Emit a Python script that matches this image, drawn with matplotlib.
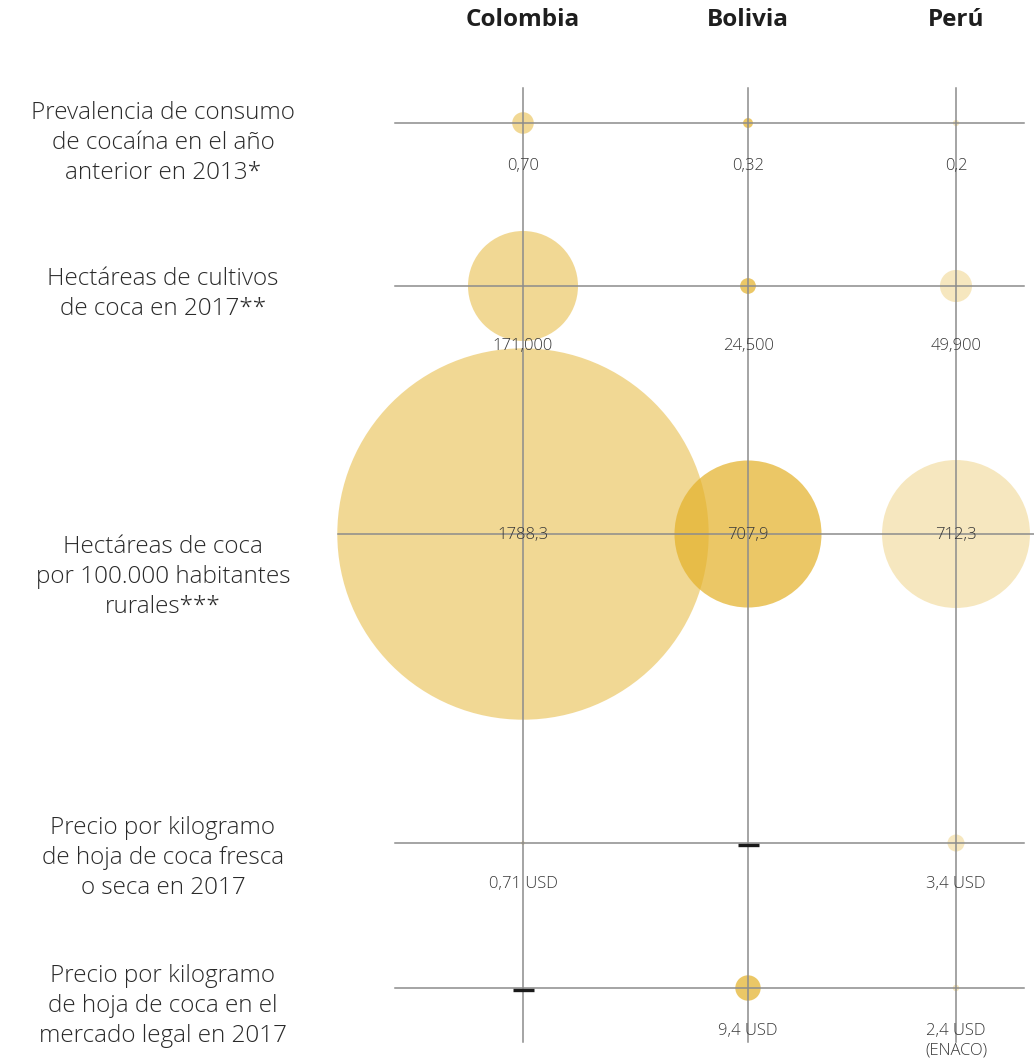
import numpy as np
import matplotlib
matplotlib.use("Agg")
import matplotlib.pyplot as plt
from matplotlib.patches import Circle

# datos
paises = ["Colombia", "Bolivia", "Perú"]
indicadores = [
    "Prevalencia de consumo\nde cocaína en el año\nanterior en 2013*",
    "Hectáreas de cultivos\nde coca en 2017**",
    "Hectáreas de coca\npor 100.000 habitantes\nrurales***",
    "Precio por kilogramo\nde hoja de coca fresca\no seca en 2017",
    "Precio por kilogramo\nde hoja de coca en el\nmercado legal en 2017",
]
prevalencia = [0.70, 0.32, 0.2]
hectareas = [171000, 24500, 49900]
hect_rurales = [1788.3, 707.9, 712.3]
precio_hoja = [0.71, np.nan, 3.4]
precio_legal = [np.nan, 9.4, 2.4]

etiquetas = [
    ["0,70", "0,32", "0,2"],
    ["171,000", "24,500", "49,900"],
    ["1788,3", "707,9", "712,3"],
    ["0,71 USD", "", "3,4 USD"],
    ["", "9,4 USD", "2,4 USD\n(ENACO)"],
]
valores = [prevalencia, hectareas, hect_rurales, precio_hoja, precio_legal]

# layout (pixeles)
W, H = 1034, 1061
col_x = [523, 748, 956]
fila_y = [123, 286, 534, 843, 988]
radio_max = [10.8, 55, 185.7, 8.5, 12.7]
etiq_dy = [42, 59, 0, 40, 42]
texto_y = [143, 294, 577, 858, 1006]
alfa_pais = [0.5, 0.72, 0.3]
oro = "#E4B22B"
gris = "#8c8c8c"
fuente = ["Open Sans", "DejaVu Sans"]

fig = plt.figure(figsize=(W / 100, H / 100), dpi=100)
ax = fig.add_axes([0, 0, 1, 1])
ax.set_xlim(0, W)
ax.set_ylim(H, 0)
ax.axis("off")

# cuadricula
for x in col_x:
    ax.plot([x, x], [88, 1042], color=gris, lw=1.1, zorder=3)
for i, y in enumerate(fila_y):
    x0, x1 = (338, W) if i == 2 else (395, 1024)
    ax.plot([x0, x1], [y, y], color=gris, lw=1.1, zorder=3)

# burbujas
for i, fila in enumerate(valores):
    vmax = np.nanmax(fila)
    for j, v in enumerate(fila):
        x, y = col_x[j], fila_y[i]
        if np.isnan(v):
            ax.plot([x - 10.5, x + 10.5], [y + 1.5, y + 1.5], color="#1a1a1a",
                    lw=2.4, solid_capstyle="butt", zorder=4)
            continue
        r = radio_max[i] * v / vmax
        ax.add_patch(Circle((x, y), r, facecolor=oro, alpha=alfa_pais[j],
                            edgecolor="none", zorder=2))
        ax.text(x, y + etiq_dy[i] - 7, etiquetas[i][j], ha="center", va="top",
                fontsize=12, fontweight="light", color="#383838", family=fuente,
                zorder=5, linespacing=1.3)

# encabezados
for j, p in enumerate(paises):
    ax.text(col_x[j], 20, p, ha="center", va="center", fontsize=17.5,
            fontweight="bold", color="#1e1e1e", family=fuente)

# etiquetas de filas
for i, t in enumerate(indicadores):
    ax.text(163, texto_y[i], t, ha="center", va="center", fontsize=17.5,
            fontweight="light", color="#2a2a2a", family=fuente, linespacing=1.33)

fig.savefig("out.png", dpi=100)
